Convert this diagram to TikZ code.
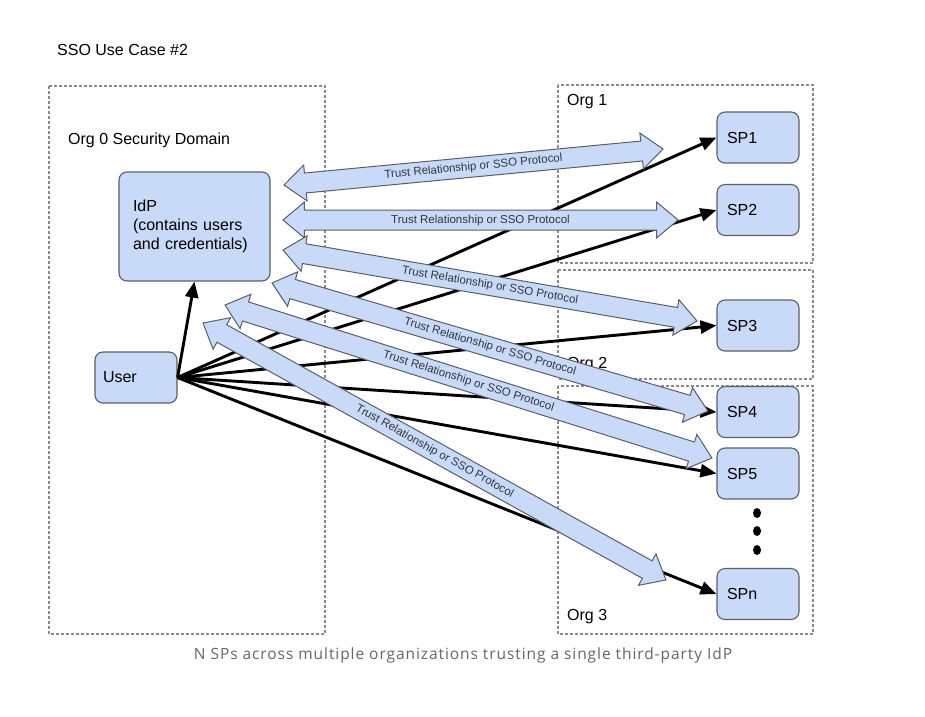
\documentclass[tikz,border=0pt]{standalone}
\usepackage{fontspec}
\setmainfont{Liberation Sans}
\newfontfamily\captionfont{Open Sans}
\usetikzlibrary{arrows.meta,shapes.arrows,shapes.geometric,calc}
\definecolor{boxfill}{HTML}{C9DAF8}
\definecolor{boxline}{HTML}{5A5F66}
\definecolor{dashgray}{HTML}{8A8A8A}
\definecolor{captiongray}{HTML}{666666}
\definecolor{arrowtext}{HTML}{2E3640}
\newcommand\trustarrow[3]{%
  \path let \p1=(#2), \p2=(#3), \n1={atan2(\y2-\y1,\x2-\x1)}, \n2={veclen(\x2-\x1,\y2-\y1)} in
    node[trust, rotate=\n1, minimum height=\n2] (#1) at ($(#2)!0.5!(#3)$) {Trust Relationship or SSO Protocol};}
\begin{document}
\begin{tikzpicture}[x=1pt,y=-1pt,
  bigtext/.style={font=\fontsize{16}{19}\selectfont, inner sep=0pt},
  orgbox/.style={draw=dashgray, line width=1.1pt, dash pattern=on 3pt off 2pt},
  ent/.style={draw=boxline, fill=boxfill, line width=1.1pt, rounded corners=8pt,
    font=\fontsize{16}{19}\selectfont, align=left, inner ysep=0pt},
  sp/.style={ent, text width=62pt, inner xsep=10pt, minimum height=51pt},
  flow/.style={line width=2.9pt, -{Triangle[length=16pt,width=13pt]}},
  trust/.style={double arrow, draw=boxline, fill=boxfill, line width=1pt,
    double arrow head extend=8pt, double arrow tip angle=80, minimum width=0pt,
    inner xsep=0pt, inner ysep=4pt, text height=8.5pt, text depth=2.5pt,
    font=\fontsize{11.5}{13}\selectfont, text=arrowtext, outer sep=0pt}]
\useasboundingbox[fill=white] (0,0) rectangle (925,716);

% title and caption
\node[bigtext, anchor=west] (title) at (57,50) {SSO Use Case \#2};
\node[font=\captionfont\fontsize{15.5}{18}\selectfont\addfontfeatures{LetterSpace=6}, text=captiongray, inner sep=0pt] (caption) at (463,655)
  {N SPs across multiple organizations trusting a single third-party IdP};

% security domains
\draw[orgbox] (49,86) rectangle (325,634);
\draw[orgbox] (558,85) rectangle (813,263);
\draw[orgbox] (558,270) rectangle (813,379);
\draw[orgbox] (558,386) rectangle (813,634);
\node[bigtext, anchor=west] (org0) at (68,140) {Org 0 Security Domain};
\node[bigtext, anchor=west] (org1) at (567,102) {Org 1};
\node[bigtext, anchor=west] (org2) at (567,365) {Org 2};
\node[bigtext, anchor=west] (org3) at (567,617) {Org 3};

% entities
\node[ent, text width=123pt, inner xsep=14pt, minimum height=109pt] (idp) at (194.5,226.5)
  {IdP\\(contains users\\and credentials)};
\node[ent, text width=66pt, inner xsep=8pt, minimum height=51pt] (user) at (136,377.5) {User};
\node[sp] (sp1) at (758,137.5) {SP1};
\node[sp] (sp2) at (758,210) {SP2};
\node[sp] (sp3) at (758,325.5) {SP3};
\node[sp] (sp4) at (758,412) {SP4};
\node[sp] (sp5) at (758,473.5) {SP5};
\node[sp] (spn) at (758,594) {SPn};
\foreach \yy/\nm in {513/d1,531/d2,550/d3}
  \node[fill=black, ellipse, minimum width=8pt, minimum height=10pt, inner sep=0pt] (\nm) at (757,\yy) {};

% user flows
\draw[flow] (user.east) -- (idp.south);
\foreach \t in {sp1,sp2,sp3,sp4,sp5,spn}
  \draw[flow] (user.east) -- (\t.west);

% trust relationships
\coordinate (a1) at (284,185); \coordinate (b1) at (663,149);
\coordinate (a2) at (283,220); \coordinate (b2) at (678,220);
\coordinate (a3) at (283,250); \coordinate (b3) at (697,321);
\coordinate (a4) at (272,283); \coordinate (b4) at (708,411);
\coordinate (a5) at (225,305); \coordinate (b5) at (712,458);
\coordinate (a6) at (203,323); \coordinate (b6) at (666,580);
\trustarrow{t1}{a1}{b1}
\trustarrow{t2}{a2}{b2}
\trustarrow{t3}{a3}{b3}
\trustarrow{t4}{a4}{b4}
\trustarrow{t5}{a5}{b5}
\trustarrow{t6}{a6}{b6}
\end{tikzpicture}
\end{document}
